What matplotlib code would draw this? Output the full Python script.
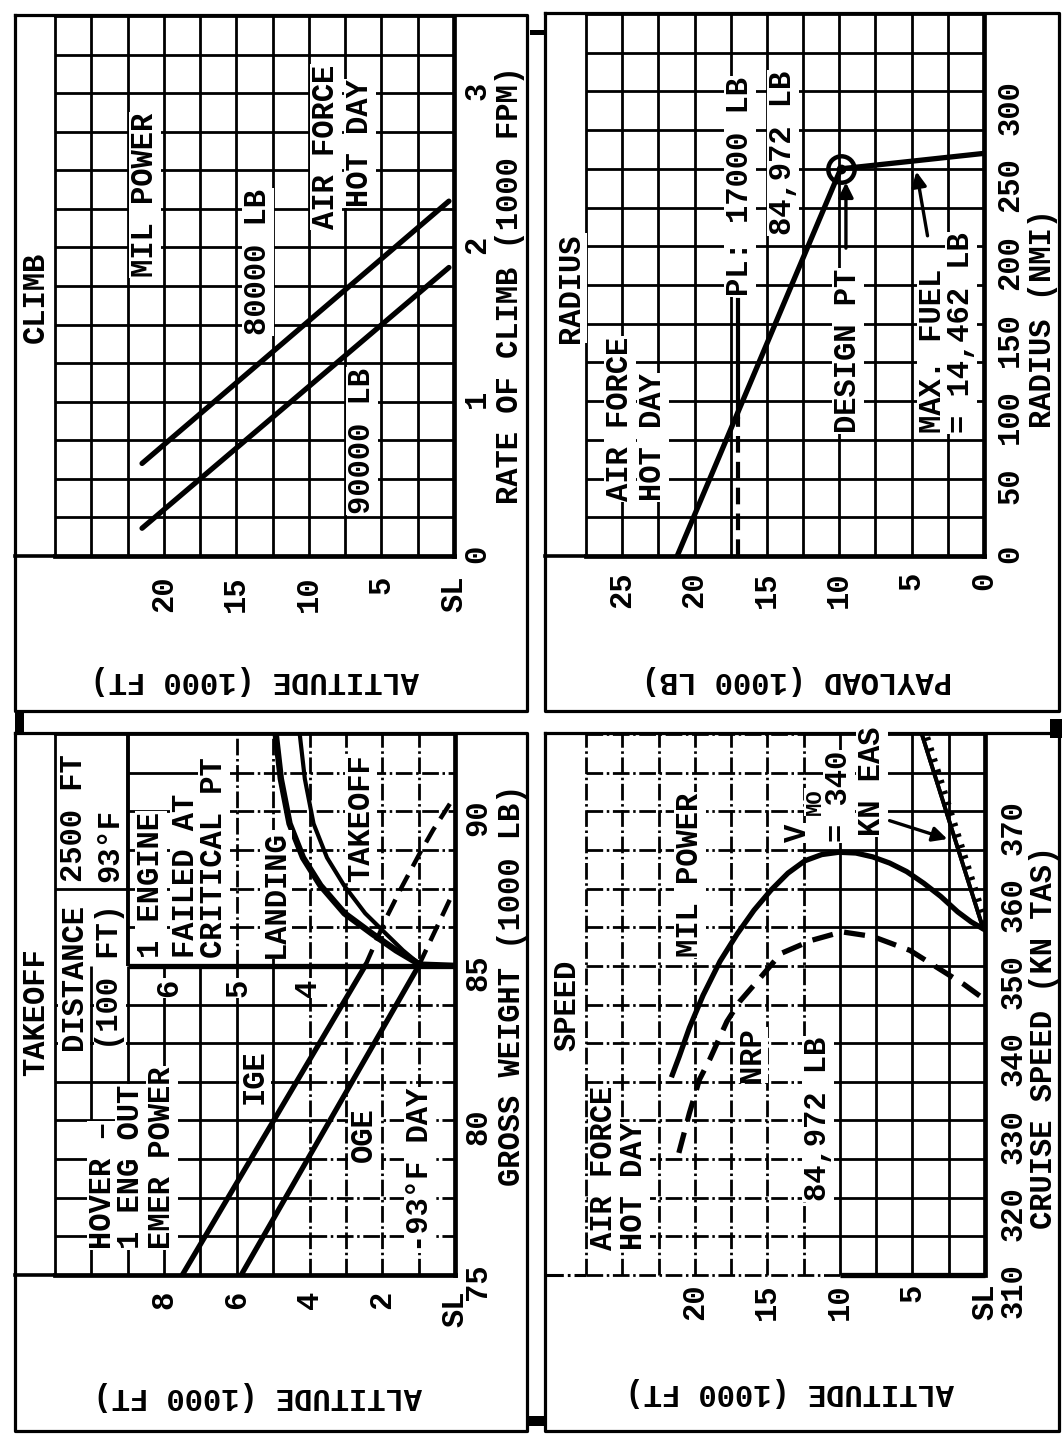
"""
Tilt-rotor performance summary sheet: climb, radius, takeoff and speed.
The original page is rotated 90 degrees, so every panel is drawn with
altitude / payload running right-to-left and the second variable upward.
"""

import matplotlib.pyplot as plt
from matplotlib import patheffects as pe

W, H = 1062, 1434
FS = 22
GRID_LW = 2.0
LINE_LW = 3.8
DASHDOT = (0, (6, 1.3, 0.9, 1.3))
LONGDASH = (0, (4, 2.2))

plt.rcParams["font.family"] = ["Liberation Mono", "DejaVu Sans Mono"]
plt.rcParams["font.weight"] = "bold"

# ---- CLIMB: altitude (1000 ft) vs rate of climb (1000 fpm) ----
climb_alt = [21.5, 0.35]
climb_rate_80k = [0.6, 2.3]
climb_rate_90k = [0.18, 1.87]
climb_alt_ticks = [20, 15, 10, 5, 0]
climb_alt_labels = ["20", "15", "10", "5", "SL"]
climb_rate_ticks = [0, 1, 2, 3]

# ---- RADIUS: payload (1000 lb) vs radius (nmi) ----
radius_payload = [21.2, 9.9, 0.0]
radius_nmi = [0.0, 250.0, 260.0]
design_payload, design_radius = 9.9, 250.0
pl_payload = 17.0
pl_radius_dash = [0.0, 90.0]
pl_radius_solid = [90.0, 165.0]
payload_ticks = [25, 20, 15, 10, 5, 0]
radius_ticks = [0, 50, 100, 150, 200, 250, 300]

# ---- TAKEOFF: altitude (1000 ft) vs gross weight (1000 lb) ----
ige_alt = [7.5, 2.47]
ige_wt = [75.0, 85.0]
oge_alt = [5.88, 1.0]
oge_wt = [75.0, 85.0]
ige_ext_alt = [2.47, 1.87, 1.46, 0.96, 0.6, 0.0]
ige_ext_wt = [85.0, 86.6, 87.56, 88.66, 89.4, 90.5]
oge_ext_alt = [1.0, 0.0]
oge_ext_wt = [85.0, 87.5]
landing_alt = [4.93, 4.79, 4.55, 4.18, 3.7, 3.04, 2.28, 1.62, 0.96, 0.0]
landing_wt = [92.5, 91.05, 89.6, 88.5, 87.6, 86.7, 86.04, 85.5, 85.04, 85.0]
takeoff_alt = [4.27, 4.13, 3.89, 3.52, 3.05, 2.47, 1.9, 1.43, 0.96, 0.0]
takeoff_wt = [92.5, 91.05, 89.6, 88.5, 87.6, 86.7, 86.04, 85.5, 85.04, 85.0]
to_alt_ticks = [8, 6, 4, 2, 0]
to_alt_labels = ["8", "6", "4", "2", "SL"]
to_wt_ticks = [75, 80, 85, 90]

# ---- SPEED: altitude (1000 ft) vs cruise speed (kn TAS) ----
mil_alt = [21.55, 21.07, 20.37, 19.43, 18.26, 17.09, 15.92, 14.75, 13.58, 12.41, 11.25,
           10.08, 8.9, 7.74, 6.57, 5.4, 4.23, 3.06, 1.89, 0.96, 0.14]
mil_kn = [335.9, 338.3, 342.0, 346.2, 350.6, 354.1, 357.2, 359.8, 362.0, 363.6, 364.4,
          364.7, 364.6, 364.1, 363.3, 362.2, 360.7, 359.0, 357.0, 355.7, 354.8]
nrp_alt = [21.1, 20.38, 19.68, 18.97, 17.79, 16.9, 15.47, 14.07, 11.96, 9.86, 7.74,
           5.17, 3.31, 1.45, 0.28]
nrp_kn = [325.8, 330.9, 335.3, 337.9, 342.8, 345.4, 348.5, 351.6, 353.3, 354.4, 353.8,
          352.0, 349.8, 347.6, 346.0]
vmo_alt = [4.34, 0.14]
vmo_kn = [379.9, 354.9]
spd_alt_ticks = [20, 15, 10, 5, 0]
spd_alt_labels = ["20", "15", "10", "5", "SL"]
spd_ticks = [310, 320, 330, 340, 350, 360, 370]


fig = plt.figure(figsize=(W / 100, H / 100), dpi=100)


def panel(x0, y0, x1, y1):
    """Axes placed by pixel box (top-left origin)."""
    return fig.add_axes([x0 / W, 1 - y1 / H, (x1 - x0) / W, (y1 - y0) / H])


def vseg(ax, x, y0, y1, dash=False, lw=GRID_LW):
    ax.plot([x, x], [y0, y1], color="k", lw=lw, ls=DASHDOT if dash else "-",
            solid_capstyle="butt", clip_on=False, zorder=1)


def hseg(ax, y, x0, x1, dash=False, lw=GRID_LW):
    ax.plot([x0, x1], [y, y], color="k", lw=lw, ls=DASHDOT if dash else "-",
            solid_capstyle="butt", clip_on=False, zorder=1)


def frange(a, b, step):
    out, v = [], a
    while v < b - 1e-9:
        out.append(round(v, 4))
        v += step
    return out


def setup(ax, xlim, ylim, xt, xl, yt, xpad, ypad):
    ax.set_xlim(*xlim)
    ax.set_ylim(*ylim)
    ax.yaxis.tick_right()
    ax.set_xticks(xt, xl, rotation=90, fontsize=FS)
    ax.set_yticks(yt, [str(t) for t in yt], rotation=90, fontsize=FS)
    ax.tick_params(length=0)
    ax.tick_params(axis="x", pad=xpad)
    ax.tick_params(axis="y", pad=ypad)
    for side in ["left", "top"]:
        ax.spines[side].set_linewidth(2.0)
    for side in ["right", "bottom"]:
        ax.spines[side].set_linewidth(3.4)


# ---------------- CLIMB ----------------
ax1 = panel(55, 16, 454, 556)
setup(ax1, (27.5, 0), (0, 3.5), climb_alt_ticks, climb_alt_labels, climb_rate_ticks, 14, 6)
for a in frange(2.5, 27.5, 2.5):
    vseg(ax1, a, 0, 3.5)
for r in frange(0.25, 3.5, 0.25):
    hseg(ax1, r, 27.5, 0)
ax1.plot(climb_alt, climb_rate_80k, color="k", lw=LINE_LW, solid_capstyle="round", zorder=3)
ax1.plot(climb_alt, climb_rate_90k, color="k", lw=LINE_LW, solid_capstyle="round", zorder=3)

# ---------------- RADIUS ----------------
ax2 = panel(586, 14, 984, 556)
setup(ax2, (27.5, 0), (0, 350), payload_ticks, [str(t) for t in payload_ticks],
      radius_ticks, 11, 8)
for a in frange(2.5, 27.5, 2.5):
    vseg(ax2, a, 0, 350)
for r in frange(25, 350, 25):
    hseg(ax2, r, 27.5, 0)
ax2.plot(radius_payload, radius_nmi, color="k", lw=LINE_LW, solid_capstyle="round", zorder=3)
ax2.plot([pl_payload, pl_payload], pl_radius_dash, color="k", lw=3, ls=LONGDASH, zorder=3)
ax2.plot([pl_payload, pl_payload], pl_radius_solid, color="k", lw=3, zorder=3)
ax2.plot([design_payload], [design_radius], marker="o", ms=19, mfc="none", mec="k",
         mew=3.2, zorder=4)
ax2.plot([design_payload], [design_radius], marker="o", ms=6, color="k", zorder=4)
arrow = dict(arrowstyle="-|>", lw=2.4, color="k", mutation_scale=22)
ax2.annotate("", xy=(9.54, 243), xytext=(9.54, 197), arrowprops=arrow, zorder=4)
ax2.annotate("", xy=(4.7, 250), xytext=(3.87, 205), arrowprops=arrow, zorder=4)

# ---------------- TAKEOFF ----------------
ax3 = panel(55, 734, 455, 1275)
setup(ax3, (11, 0), (75, 92.5), to_alt_ticks, to_alt_labels, to_wt_ticks, 11, 6)
for a in range(1, 11):
    if a in (7, 8, 10):
        vseg(ax3, a, 75, 85)
    elif a == 9:
        vseg(ax3, a, 75, 85)
        vseg(ax3, a, 85, 92.5, lw=2.8)
    elif a in (5, 6):
        vseg(ax3, a, 75, 85)
        vseg(ax3, a, 85, 92.5, dash=True)
    else:
        vseg(ax3, a, 75, 92.5, dash=True)
for w in frange(76.25, 92.5, 1.25):
    if w < 85:
        hseg(ax3, w, 11, 4)
        hseg(ax3, w, 4, 0, dash=True)
    elif w == 87.5:
        hseg(ax3, w, 11, 6)
        hseg(ax3, w, 6, 0, dash=True)
    elif w > 85:
        hseg(ax3, w, 9, 6)
        hseg(ax3, w, 6, 0, dash=True)
hseg(ax3, 85, 9, 0, lw=3.8)
ax3.plot(ige_alt, ige_wt, color="k", lw=LINE_LW, zorder=3)
ax3.plot(oge_alt, oge_wt, color="k", lw=LINE_LW, zorder=3)
ax3.plot(ige_ext_alt, ige_ext_wt, color="k", lw=3.2, ls=LONGDASH, zorder=3)
ax3.plot(oge_ext_alt, oge_ext_wt, color="k", lw=3.2, ls=LONGDASH, zorder=3)
ax3.plot(landing_alt, landing_wt, color="k", lw=4.6, zorder=3)
ax3.plot(takeoff_alt, takeoff_wt, color="k", lw=3.0, zorder=3)

# ---------------- SPEED ----------------
ax4 = panel(586, 734, 985, 1275)
setup(ax4, (27.5, 0), (310, 380), spd_alt_ticks, spd_alt_labels, spd_ticks, 6, 10)
ax4.spines["left"].set_visible(False)
ax4.spines["top"].set_visible(False)
ax4.spines["bottom"].set_visible(False)
for a in frange(2.5, 27.5, 2.5):
    vseg(ax4, a, 310, 380, dash=(a >= 12.5))
vseg(ax4, 27.5, 310, 380, dash=True)
for s in frange(315, 385, 5):
    hseg(ax4, s, 27.5, 12.5, dash=True)
    hseg(ax4, s, 12.5, 0)
hseg(ax4, 310, 27.5, 10, dash=True)
hseg(ax4, 310, 10, 0, lw=3.8)
ax4.plot(mil_alt, mil_kn, color="k", lw=LINE_LW, zorder=3)
ax4.plot(nrp_alt, nrp_kn, color="k", lw=LINE_LW, ls=LONGDASH, zorder=3)
ax4.plot(vmo_alt, vmo_kn, color="k", lw=2.8, zorder=3,
         path_effects=[pe.withTickedStroke(angle=90, spacing=8, length=0.5, linewidth=2.4),
                       pe.Normal()])
ax4.annotate("", xy=(2.41, 366.3), xytext=(6.76, 368.9), arrowprops=arrow, zorder=4)

# ---------------- page overlay (frames and text) ----------------
ov = fig.add_axes([0, 0, 1, 1])
ov.set_xlim(0, W)
ov.set_ylim(H, 0)
ov.axis("off")
ov.set_zorder(10)


def frame(x0, y0, x1, y1):
    ov.plot([x0, x1, x1, x0, x0], [y0, y0, y1, y1, y0], color="k", lw=2.3)


frame(15, 15, 527, 711)
frame(545, 13, 1059, 711)
frame(15, 733, 527, 1431)
frame(545, 733, 1059, 1431)
ov.plot([15, 55], [556, 556], color="k", lw=2.6)
ov.plot([545, 586], [556, 556], color="k", lw=2.6)
ov.plot([15, 55], [1275, 1275], color="k", lw=2.6)
ov.plot([545, 586], [1275, 1275], color="k", lw=2.2, ls=DASHDOT)
for x0, y0, x1, y1 in [(15, 711, 24, 733), (1050, 719, 1062, 738), (528, 1416, 545, 1426),
                       (530, 30, 545, 35)]:
    ov.fill([x0, x1, x1, x0], [y0, y0, y1, y1], color="k", lw=0)


def vtext(x, y, s, ha="center", fs=FS, box=True):
    kw = dict(bbox=dict(fc="white", ec="none", pad=0.5)) if box else {}
    ov.text(x, y, s, rotation=90, rotation_mode="anchor", ha=ha, va="center",
            fontsize=fs, **kw)


def flipped(x, y, s):
    ov.text(x, y, s, rotation=180, ha="center", va="center", fontsize=FS)


# climb
vtext(36, 297, "CLIMB")
vtext(145, 195, "MIL POWER")
vtext(258, 262, "80000 LB")
vtext(326, 229, "AIR FORCE", ha="left")
vtext(360, 207, "HOT DAY", ha="left")
vtext(362, 441, "90000 LB")
vtext(510, 285, "RATE OF CLIMB (1000 FPM)", box=False)
flipped(255, 680, "ALTITUDE (1000 FT)")

# radius
vtext(571, 288, "RADIUS")
vtext(620, 501, "AIR FORCE", ha="left")
vtext(653, 501, "HOT DAY", ha="left")
vtext(740, 296, "PL: 17000 LB", ha="left")
vtext(783, 153, "84,972 LB")
vtext(848, 433, "DESIGN PT", ha="left")
vtext(933, 433, "MAX. FUEL", ha="left")
vtext(961, 433, "= 14,462 LB", ha="left")
vtext(1043, 318, "RADIUS (NMI)", box=False)
flipped(797, 680, "PAYLOAD (1000 LB)")

# takeoff
vtext(36, 1012, "TAKEOFF")
vtext(74, 977, "DISTANCE")
vtext(110, 977, "(100 FT)")
vtext(74, 882, "2500 FT", ha="left")
vtext(110, 882, "93°F", ha="left")
vtext(151, 958, "1 ENGINE", ha="left")
vtext(186, 958, "FAILED AT", ha="left")
vtext(214, 958, "CRITICAL PT", ha="left")
vtext(276, 958, "LANDING", ha="left")
vtext(361, 882, "TAKEOFF", ha="left")
vtext(169, 988, "6")
vtext(238, 988, "5")
vtext(308, 988, "4")
vtext(103, 1249, "HOVER –", ha="left")
vtext(131, 1249, "1 ENG OUT", ha="left")
vtext(162, 1249, "EMER POWER", ha="left")
vtext(255, 1077, "IGE")
vtext(364, 1135, "OGE")
vtext(420, 1252, "-93°F DAY", ha="left")
vtext(512, 985, "GROSS WEIGHT (1000 LB)", box=False)
flipped(258, 1396, "ALTITUDE (1000 FT)")

# speed
vtext(567, 1005, "SPEED")
vtext(690, 875, "MIL POWER")
vtext(752, 1055, "NRP")
vtext(818, 1119, "84,972 LB")
vtext(798, 842, "V", ha="left")
vtext(815, 815, "MO", ha="left", fs=16)
vtext(839, 842, "= 340", ha="left")
vtext(872, 836, "KN EAS", ha="left")
vtext(604, 1250, "AIR FORCE", ha="left")
vtext(634, 1250, "HOT DAY", ha="left")
vtext(1044, 1037, "CRUISE SPEED (KN TAS)", box=False)
flipped(790, 1392, "ALTITUDE (1000 FT)")

fig.savefig("out.png", dpi=100)
